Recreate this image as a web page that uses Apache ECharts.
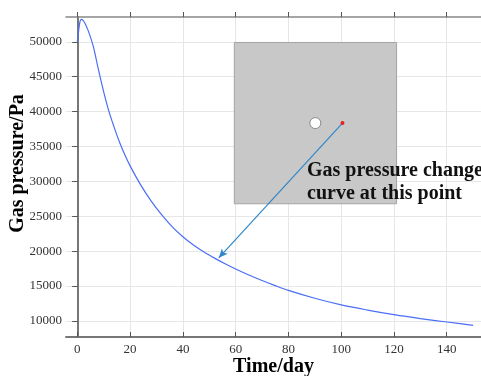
<!DOCTYPE html>
<html>
<head>
<meta charset="utf-8">
<script src="https://cdn.jsdelivr.net/npm/echarts@6/dist/echarts.min.js"></script>
<style>
  html, body { margin: 0; padding: 0; background: #fff; }
  #chart { width: 481px; height: 376px; }
</style>
</head>
<body>
<div id="chart"></div>
<script>
// time (day) and gas pressure (Pa)
const days = [0, 0.5, 1, 1.5, 2.5, 4, 6, 8, 10, 12, 14, 16, 18, 20, 24, 28, 32, 36, 40, 44,
  48, 52, 56, 60, 65, 70, 75, 80, 90, 100, 110, 120, 130, 140, 150];
const pressure = [50000, 51600, 52900, 53200, 52900, 51700, 49400, 46000, 42800, 40000, 37700,
  35600, 33800, 32220, 29500, 27180, 25200, 23480, 22060, 20870, 19870, 19000, 18190, 17440,
  16580, 15790, 15060, 14380, 13250, 12300, 11560, 10900, 10340, 9850, 9370];

const xTicks = [0, 20, 40, 60, 80, 100, 120, 140];
const yTicks = [10000, 15000, 20000, 25000, 30000, 35000, 40000, 45000, 50000];

// inset picture and pointer, in data units
const insetBox = [[59.5, 49900], [121, 26790]];
const holeAt = [90.2, 38350];
const probeAt = [100.5, 38350];
const arrowTip = [53.6, 19050];

const serif = "'Liberation Serif', 'Times New Roman', serif";
const chart = echarts.init(document.getElementById('chart'));

const tickLabel = { fontFamily: serif, fontSize: 13, color: '#333' };

const option = {
  animation: false,
  grid: { left: 66, right: 0, top: 17, bottom: 39, outerBoundsMode: 'none', containLabel: false },
  xAxis: [
    {
      type: 'value',
      min: -4.3,
      max: 153,
      name: 'Time/day',
      nameLocation: 'middle',
      nameGap: 20,
      nameMoveOverlap: false,
      nameTextStyle: { fontFamily: serif, fontSize: 20, fontWeight: 'bold', color: '#000' },
      axisLine: { show: true, lineStyle: { color: '#777', width: 2 } },
      axisTick: { show: true, inside: true, length: 5, lineStyle: { color: '#555' }, customValues: xTicks },
      axisLabel: { ...tickLabel, margin: 6, customValues: xTicks },
      splitLine: { show: true, lineStyle: { color: '#e6e6e6', width: 1 } }
    },
    {
      type: 'value',
      position: 'top',
      min: -4.3,
      max: 153,
      axisLine: { show: true, lineStyle: { color: '#888', width: 1.5 } },
      axisTick: { show: true, inside: false, length: 5, lineStyle: { color: '#555' }, customValues: xTicks },
      axisLabel: { show: false },
      splitLine: { show: false }
    }
  ],
  yAxis: [
    {
      type: 'value',
      min: 7700,
      max: 53550,
      name: 'Gas pressure/Pa',
      nameLocation: 'middle',
      nameGap: 38,
      nameMoveOverlap: false,
      nameTextStyle: {
        fontFamily: serif, fontSize: 20, fontWeight: 'bold', color: '#000',
        padding: [0, 0, 0, 27]
      },
      axisLine: { show: true, lineStyle: { color: '#777', width: 2 } },
      axisTick: { show: true, inside: false, length: 5, lineStyle: { color: '#555' }, customValues: yTicks },
      axisLabel: { ...tickLabel, margin: 4, customValues: yTicks, formatter: v => String(v) },
      splitLine: { show: true, lineStyle: { color: '#e6e6e6', width: 1 } }
    },
    {
      type: 'value',
      position: 'right',
      min: 7700,
      max: 53550,
      axisLine: { show: false },
      axisTick: { show: true, inside: true, length: 5, lineStyle: { color: '#555' }, customValues: yTicks },
      axisLabel: { show: false },
      splitLine: { show: false }
    }
  ],
  series: [
    {
      type: 'line',
      data: days.map((d, i) => [d, pressure[i]]),
      showSymbol: false,
      smooth: 0.3,
      lineStyle: { color: '#4a6ef5', width: 1.2 },
      markArea: {
        silent: true,
        label: { show: false },
        itemStyle: { color: '#c8c8c8', opacity: 1, borderColor: '#a4a4a4', borderWidth: 1 },
        data: [[{ coord: insetBox[0] }, { coord: insetBox[1] }]]
      },
      markLine: {
        silent: true,
        symbol: ['none', 'arrow'],
        symbolSize: [6, 9],
        label: { show: false },
        lineStyle: { color: '#2f86c9', width: 1.2, type: 'solid' },
        data: [[{ coord: probeAt }, { coord: arrowTip }]]
      },
      markPoint: {
        silent: true,
        label: { show: false },
        data: [
          { coord: holeAt, symbol: 'circle', symbolSize: 11,
            itemStyle: { color: '#fff', borderColor: '#8a8a8a', borderWidth: 1 } },
          { coord: probeAt, symbol: 'circle', symbolSize: 4,
            itemStyle: { color: '#e52020' } }
        ]
      }
    }
  ],
  graphic: [
    {
      type: 'text',
      left: 307,
      top: 159,
      z: 100,
      style: {
        text: 'Gas pressure change\ncurve at this point',
        font: 'bold 20px ' + serif,
        fill: '#111',
        lineHeight: 23
      }
    }
  ]
};

chart.setOption(option);
</script>
</body>
</html>
